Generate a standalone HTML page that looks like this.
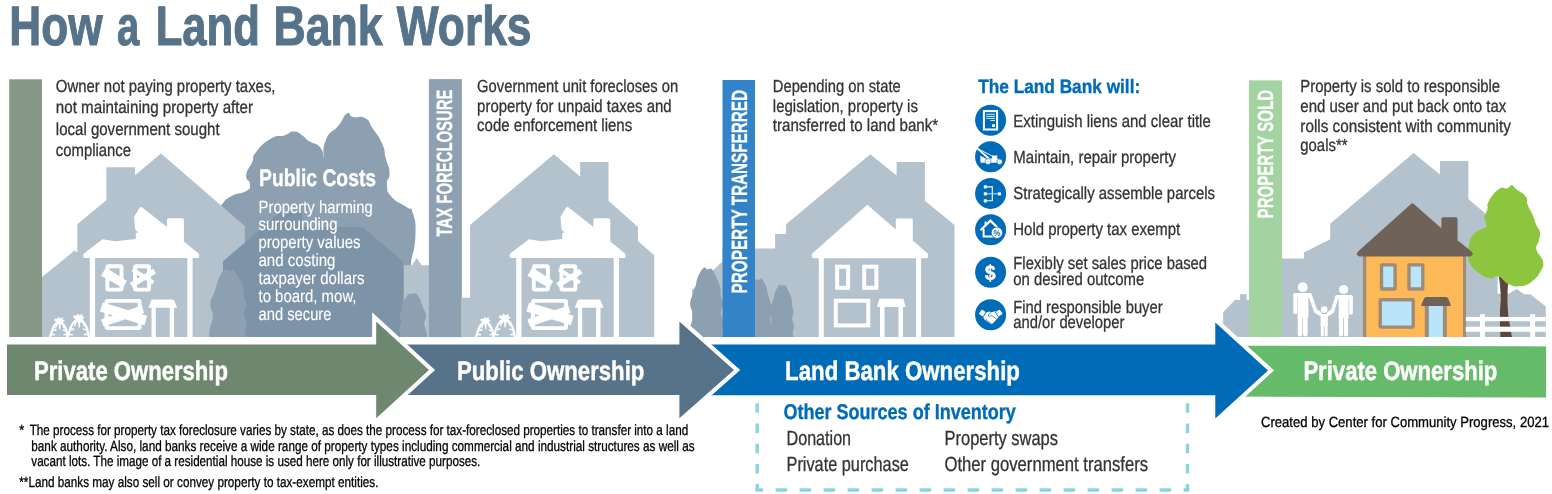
<!DOCTYPE html>
<html><head><meta charset="utf-8"><title>How a Land Bank Works</title>
<style>
html,body{margin:0;padding:0;background:#fff;}
body{width:1552px;height:494px;overflow:hidden;font-family:"Liberation Sans",sans-serif;}
svg{display:block;font-family:"Liberation Sans",sans-serif;will-change:transform;text-rendering:geometricPrecision;}
</style></head><body>
<svg width="1552" height="494" viewBox="0 0 1552 494">
<defs>
<g id="derelict" fill="#fff" stroke="none">
<path d="M84.2 253.2 L102.6 239.2 L115.1 241.2 L135.8 238.9 L135.8 232.9 L138 232.4 L135.2 229.5 L134 216.9 L139.6 207.8 Q141.1 206.3 142.6 207.7 L167 227 L167 219.8 Q167 218.2 168.6 218.2 L182.3 218.2 Q183.9 218.2 183.9 219.8 L183.9 241.6 L198.3 253.2 Q200.4 255.6 198.3 258.1 L84.2 258.1 Q82.1 255.6 84.2 253.2 Z"/>
<rect x="89.8" y="257" width="5.3" height="80.5"/>
<rect x="187.3" y="257" width="5.3" height="80.5"/>
<g fill="none" stroke="#fff" stroke-width="3.9" stroke-linejoin="round">
<rect x="107.35" y="266.2" width="14.2" height="23.4" rx="1"/>
<rect x="135.05" y="266.2" width="14" height="23.4" rx="1"/>
<rect x="106.5" y="300.9" width="33.1" height="27.2" rx="1"/>
</g>
<path d="M101 275.8 L106 267.6 L126.8 281.1 L122.9 288 Z"/>
<path d="M129.8 283 L153.3 268.8 L156 273.4 L132.8 287.6 Z"/>
<path d="M131.6 271.2 L133.6 267.8 L154.4 281 L152.4 284.4 Z"/>
<path d="M100 311.4 L102.7 302.5 L147.2 315.8 L144.5 325.2 Z"/>
<path d="M100.9 319.4 L141.9 305.6 L144 313.1 L103.6 326.6 Z"/>
<path d="M152.8 299.4 L172.6 299.4 Q174 299.4 174.4 300.8 L177 307.8 L148.4 307.8 L151 300.8 Q151.4 299.4 152.8 299.4 Z"/>
<rect x="151.5" y="305" width="4.3" height="32.5"/>
<rect x="169.7" y="305" width="4.4" height="32.5"/>
</g>
<g id="bags">
<g fill="none" stroke="#fff" stroke-width="2.3" stroke-linejoin="round">
<path d="M50 337 L52.2 330.4 Q53.6 325.6 56.4 323 L62.2 323 Q65 325.4 66.2 329.6 L67.6 337"/>
<path d="M67.4 337 L70 329.4 Q71.6 324 75 321 L82.4 321 Q85.6 323.6 87 328.4 L89 337"/>
</g>
<g fill="#fff">
<path d="M54.6 318.4 L57.4 319 L58.2 316.8 L60.2 318.6 L62.4 317 L62.8 319.6 L64.8 320.4 L62.8 322 L63.2 324 L56 324 L56.6 321.8 L54.4 320.8 Z"/>
<path d="M73.6 315.2 L76.4 315.8 L77.4 313.4 L79.6 315.4 L82.2 313.8 L82.6 316.4 L84.8 317.4 L82.6 319 L83 321.6 L75 321.6 L75.6 319 L73.2 317.8 Z"/>
<path d="M58.6 323.5 L60.8 323.5 L60.2 329.6 L59.2 329.6 Z M56 323.5 L58 323.5 L56 328.4 L55 328.2 Z M61.4 323.5 L63.4 323.5 L64.6 328 L63.6 328.4 Z"/>
<path d="M78 321.2 L80.4 321.2 L79.8 327.6 L78.6 327.6 Z M75 321.2 L77.2 321.2 L75 326.4 L74 326.2 Z M81.2 321.2 L83.4 321.2 L84.8 326 L83.8 326.4 Z"/>
<path d="M52 329.6 L56.6 329 L56.2 330.8 L52 331.2 Z M66.6 330.2 L62.6 329.2 L63 331 L66.6 331.6 Z M70 328.8 L74.4 328.2 L74 330 L70 330.4 Z M87.4 329.4 L83 328.2 L83.4 330 L87.4 330.8 Z M50.6 333.6 L55 334 L55 335.4 L50.6 335.2 Z M68.4 333.4 L72.8 334 L72.8 335.4 L68.4 335.2 Z M88.2 333 L84 334 L84 335.4 L88.2 335 Z M66.8 333.4 L63.4 334.2 L63.4 335.4 L66.8 335 Z"/>
</g>
</g>
<g id="clean" fill="#fff">
<path d="M84.1 253 L138.7 204.8 L167.1 229.5 L167.1 220 Q167.1 218.4 168.7 218.4 L182.5 218.4 Q184.1 218.4 184.1 220 L184.1 240.5 L198.5 253 Q200.5 255.5 198.5 258.3 L84.1 258.3 Q82 255.5 84.1 253 Z"/>
<rect x="90.1" y="257" width="5" height="80.5"/>
<rect x="187.4" y="257" width="5" height="80.5"/>
<g fill="none" stroke="#fff" stroke-width="4">
<rect x="108.4" y="266.7" width="11" height="21.1"/>
<rect x="135.5" y="266.7" width="12.2" height="21.1"/>
<rect x="107.1" y="300.7" width="32.5" height="24.7"/>
</g>
<path d="M150.7 298.7 L174.7 298.7 L176.9 307.1 L148.4 307.1 Z"/>
<rect x="151.3" y="305" width="4.5" height="32.5"/>
<rect x="169.8" y="305" width="4.5" height="32.5"/>
</g>
</defs>
<text x="9.32" y="44.9" font-size="55.5" font-weight="700" fill="#56738a" textLength="93.3" lengthAdjust="spacingAndGlyphs" stroke="#56738a" stroke-width="1.1">How</text>
<text x="116.89" y="44.9" font-size="55.5" font-weight="700" fill="#56738a" textLength="22.3" lengthAdjust="spacingAndGlyphs" stroke="#56738a" stroke-width="1.1">a</text>
<text x="155.65" y="44.9" font-size="55.5" font-weight="700" fill="#56738a" textLength="104.2" lengthAdjust="spacingAndGlyphs" stroke="#56738a" stroke-width="1.1">Land</text>
<text x="273.41" y="44.9" font-size="55.5" font-weight="700" fill="#56738a" textLength="109.2" lengthAdjust="spacingAndGlyphs" stroke="#56738a" stroke-width="1.1">Bank</text>
<text x="396.87" y="44.9" font-size="55.5" font-weight="700" fill="#56738a" textLength="134.6" lengthAdjust="spacingAndGlyphs" stroke="#56738a" stroke-width="1.1">Works</text>
<path fill="#8da0b1" d="M214.0 216.0 C216.4 212.5 216.6 210.4 221.9 204.4 C227.2 198.4 224.3 200.0 231.6 196.0 C238.9 192.0 240.7 194.8 246.2 191.1 C251.7 187.4 249.8 188.5 249.8 183.8 C249.8 179.1 245.5 181.8 246.2 175.3 C246.9 168.8 249.3 168.9 252.2 162.0 C255.1 155.1 250.4 159.1 255.9 152.2 C261.4 145.3 261.7 144.0 270.4 138.9 C279.1 133.8 278.1 137.4 285.0 135.2 C291.9 133.0 288.4 131.6 293.5 131.6 C298.6 131.6 297.3 132.3 302.0 135.2 C306.7 138.1 303.8 137.6 309.3 141.3 C314.8 145.0 316.0 142.4 320.2 147.4 C324.4 152.4 322.4 154.8 323.3 158.0 C324.2 152.3 321.7 148.7 326.3 138.9 C330.9 129.2 332.3 133.2 338.5 125.5 C344.7 117.8 342.6 116.0 347.0 113.4 C351.4 110.9 347.5 115.6 353.0 117.0 C358.5 118.4 359.3 114.9 365.2 118.2 C371.1 121.5 367.4 120.3 372.5 127.9 C377.6 135.6 378.2 134.6 382.2 143.7 C386.2 152.8 383.6 149.5 385.8 158.3 C388.0 167.1 389.1 164.9 389.5 172.9 C389.9 180.9 386.3 177.7 387.0 185.0 C387.7 192.3 386.0 190.6 391.9 197.2 C397.8 203.8 400.2 202.2 406.5 206.9 C412.8 211.6 410.1 204.3 412.8 213.0 C415.5 221.7 415.9 221.6 415.4 236.0 C414.9 250.4 412.4 253.5 411.1 261.0 L411 337 L214 337 Z"/>
<path fill="#b4c2cd" d="M41.5 277.4 L74.6 250.6 L77.3 252.6 L77.3 224.2 L106.4 200.2 L106.4 167.2 L135.1 167.2 L135.1 175.3 L161 153.6 L244.8 225.9 L244.8 337 L41.5 337 Z"/>
<path fill="#b4c2cd" d="M404 265.2 L412 265.2 L416.8 258.1 L421.5 265.2 L429.5 265.2 L429.5 337 L404 337 Z"/>
<path fill="#7d93a8" d="M223.1 337 L223.1 261.2 L279.8 212.7 L302.4 212.7 L302.4 227 L362.3 227 L402.8 261.2 L402.8 337 Z"/>
<path d="M209.2 337.0 C209.3 334.9 208.9 333.6 209.7 329.2 C210.6 324.8 211.5 324.9 212.2 320.5 C213.0 316.1 213.0 317.1 212.5 312.7 C211.9 308.3 210.0 308.9 210.3 304.0 C210.6 299.0 212.0 298.9 213.6 294.3 C215.1 289.6 214.8 290.9 216.3 286.5 C217.7 282.1 216.7 282.3 219.0 277.7 C221.3 273.2 222.4 271.4 225.0 269.5 C227.6 267.6 226.5 270.4 228.8 270.7 C231.1 270.9 231.4 269.0 233.7 270.4 C236.0 271.7 235.8 273.1 237.5 275.8 C239.2 278.5 238.6 277.3 240.2 280.7 C241.8 284.0 242.5 284.3 243.5 288.4 C244.5 292.6 243.3 291.8 244.0 296.2 C244.7 300.6 246.1 300.3 246.2 304.9 C246.3 309.6 244.1 308.8 244.2 313.7 C244.4 318.6 246.5 318.7 246.7 323.4 C247.0 328.1 245.3 327.5 245.1 331.2 C245.0 334.8 245.9 335.4 246.2 337.0 Z" fill="#8da0b1"/>
<path d="M427.1 337.0 C426.9 335.7 427.2 334.8 426.6 332.0 C426.0 329.1 425.3 329.2 424.8 326.3 C424.2 323.5 424.2 324.1 424.6 321.3 C425.0 318.4 426.5 318.8 426.2 315.6 C426.0 312.4 425.0 312.4 423.8 309.3 C422.6 306.3 422.9 307.2 421.8 304.3 C420.7 301.5 421.5 301.6 419.8 298.7 C418.0 295.7 417.3 294.5 415.3 293.3 C413.4 292.1 414.2 293.9 412.5 294.1 C410.8 294.2 410.6 293.0 408.9 293.9 C407.1 294.8 407.3 295.6 406.0 297.4 C404.7 299.2 405.2 298.4 404.0 300.5 C402.8 302.7 402.3 302.9 401.6 305.6 C400.8 308.3 401.7 307.8 401.2 310.6 C400.6 313.4 399.6 313.2 399.6 316.3 C399.5 319.3 401.1 318.7 401.0 321.9 C400.9 325.1 399.3 325.2 399.1 328.2 C399.0 331.2 400.3 330.9 400.4 333.2 C400.5 335.6 399.8 336.0 399.6 337.0 Z" fill="#8da0b1"/>
<rect x="9.2" y="79.3" width="32.8" height="257.7" fill="#879986"/>
<use href="#derelict"/>
<use href="#bags"/>
<text x="55.8" y="91.7" font-size="17.5" fill="#333333" textLength="219.7" lengthAdjust="spacingAndGlyphs" stroke="#333333" stroke-width="0.3">Owner not paying property taxes,</text>
<text x="55.8" y="113.2" font-size="17.5" fill="#333333" textLength="197.2" lengthAdjust="spacingAndGlyphs" stroke="#333333" stroke-width="0.3">not maintaining property after</text>
<text x="55.8" y="134.7" font-size="17.5" fill="#333333" textLength="163.8" lengthAdjust="spacingAndGlyphs" stroke="#333333" stroke-width="0.3">local government sought</text>
<text x="55.8" y="156.2" font-size="17.5" fill="#333333" textLength="75.3" lengthAdjust="spacingAndGlyphs" stroke="#333333" stroke-width="0.3">compliance</text>
<text x="259" y="185.5" font-size="24" font-weight="700" fill="#fff" textLength="117.1" lengthAdjust="spacingAndGlyphs" stroke="#fff" stroke-width="0.35">Public Costs</text>
<text x="258.5" y="212.5" font-size="17.6" fill="#fff" textLength="114.2" lengthAdjust="spacingAndGlyphs" stroke="#fff" stroke-width="0.12">Property harming</text>
<text x="258.5" y="230.45" font-size="17.6" fill="#fff" textLength="79.0" lengthAdjust="spacingAndGlyphs" stroke="#fff" stroke-width="0.12">surrounding</text>
<text x="258.5" y="248.4" font-size="17.6" fill="#fff" textLength="102.0" lengthAdjust="spacingAndGlyphs" stroke="#fff" stroke-width="0.12">property values</text>
<text x="258.5" y="266.35" font-size="17.6" fill="#fff" textLength="77.0" lengthAdjust="spacingAndGlyphs" stroke="#fff" stroke-width="0.12">and costing</text>
<text x="258.5" y="284.3" font-size="17.6" fill="#fff" textLength="106.0" lengthAdjust="spacingAndGlyphs" stroke="#fff" stroke-width="0.12">taxpayer dollars</text>
<text x="258.5" y="302.25" font-size="17.6" fill="#fff" textLength="98.0" lengthAdjust="spacingAndGlyphs" stroke="#fff" stroke-width="0.12">to board, mow,</text>
<text x="258.5" y="320.2" font-size="17.6" fill="#fff" textLength="73.0" lengthAdjust="spacingAndGlyphs" stroke="#fff" stroke-width="0.12">and secure</text>
<rect x="428.9" y="79.1" width="33" height="258" fill="#8ea1b3"/>
<text transform="translate(452.2,236.4) rotate(-90)" font-size="22" font-weight="700" fill="#fff" stroke="#fff" stroke-width="0.3" textLength="146.8" lengthAdjust="spacingAndGlyphs">TAX FORECLOSURE</text>
<path fill="#b4c2cd" d="M461 297.8 L470.1 297.8 L470.1 225 L553.9 154.2 L580.2 176.4 L580.2 162 L608.5 162 L608.5 200.7 L638 227 L638 241.2 L654.2 255.3 L654.2 337 L461 337 Z"/>
<use href="#derelict" x="426.4"/>
<use href="#bags" x="426"/>
<text x="477.1" y="91.7" font-size="17.5" fill="#333333" textLength="201.1" lengthAdjust="spacingAndGlyphs" stroke="#333333" stroke-width="0.3">Government unit forecloses on</text>
<text x="477.1" y="111.5" font-size="17.5" fill="#333333" textLength="194.6" lengthAdjust="spacingAndGlyphs" stroke="#333333" stroke-width="0.3">property for unpaid taxes and</text>
<text x="477.1" y="131.3" font-size="17.5" fill="#333333" textLength="155.1" lengthAdjust="spacingAndGlyphs" stroke="#333333" stroke-width="0.3">code enforcement liens</text>
<path fill="#b4c2cd" d="M692 290 L722.5 261.5 L722.5 248.5 L775.1 248.5 L775.1 233.9 L786.1 233.9 L786.1 224.2 L870.3 154.2 L896.6 175.6 L896.6 162 L924.9 162 L924.9 200.7 L954.5 225 L954.5 337 L692 337 Z"/>
<path d="M689.2 337.0 C689.4 334.9 689.0 333.6 689.7 329.1 C690.5 324.6 691.4 324.6 692.0 320.1 C692.7 315.6 692.7 316.7 692.2 312.2 C691.7 307.7 690.0 308.3 690.2 303.2 C690.5 298.2 691.7 298.1 693.2 293.3 C694.6 288.5 694.3 289.9 695.7 285.4 C697.0 280.9 696.0 281.1 698.1 276.4 C700.2 271.8 701.2 269.9 703.5 268.0 C705.9 266.1 704.9 268.9 707.0 269.2 C709.1 269.4 709.3 267.5 711.4 268.9 C713.5 270.3 713.3 271.6 714.9 274.4 C716.4 277.3 715.9 276.0 717.3 279.4 C718.8 282.9 719.4 283.1 720.3 287.4 C721.2 291.6 720.1 290.8 720.8 295.3 C721.4 299.8 722.7 299.5 722.8 304.2 C722.8 309.0 720.8 308.1 721.0 313.2 C721.1 318.2 723.0 318.3 723.2 323.1 C723.5 327.9 721.9 327.3 721.8 331.0 C721.6 334.7 722.5 335.4 722.8 337.0 Z" fill="#8da0b1"/>
<path d="M772.8 337.0 C772.7 335.2 773.0 334.1 772.4 330.3 C771.8 326.5 771.2 326.6 770.7 322.8 C770.1 319.0 770.1 319.9 770.5 316.1 C770.9 312.3 772.2 312.8 772.0 308.6 C771.8 304.4 770.9 304.2 769.7 300.2 C768.6 296.2 768.8 297.3 767.8 293.5 C766.8 289.8 767.5 289.9 765.9 286.0 C764.3 282.1 763.5 280.5 761.7 278.9 C759.9 277.3 760.7 279.7 759.0 279.9 C757.4 280.1 757.2 278.5 755.6 279.7 C754.0 280.9 754.1 282.0 752.9 284.4 C751.7 286.7 752.1 285.6 751.0 288.5 C749.9 291.4 749.4 291.6 748.7 295.2 C748.0 298.8 748.8 298.1 748.3 301.9 C747.8 305.7 746.8 305.4 746.8 309.4 C746.8 313.4 748.3 312.7 748.2 316.9 C748.1 321.2 746.6 321.3 746.4 325.3 C746.3 329.3 747.5 328.9 747.6 332.0 C747.7 335.1 747.0 335.7 746.8 337.0 Z" fill="#8da0b1"/>
<path d="M769.0 337.0 C769.1 335.4 768.9 334.4 769.4 331.0 C769.9 327.6 770.6 327.6 771.1 324.2 C771.5 320.9 771.6 321.6 771.2 318.2 C770.9 314.9 769.6 315.3 769.8 311.5 C770.0 307.7 770.9 307.6 771.9 304.0 C773.0 300.4 772.8 301.4 773.7 298.0 C774.7 294.6 774.0 294.8 775.5 291.2 C777.1 287.8 777.8 286.3 779.5 284.9 C781.2 283.4 780.5 285.6 782.0 285.8 C783.6 286.0 783.7 284.5 785.3 285.6 C786.8 286.6 786.6 287.6 787.8 289.8 C788.9 291.9 788.5 290.9 789.6 293.5 C790.6 296.1 791.1 296.3 791.7 299.5 C792.4 302.7 791.6 302.1 792.1 305.5 C792.6 308.9 793.5 308.6 793.5 312.2 C793.6 315.9 792.2 315.2 792.3 319.0 C792.3 322.8 793.8 322.9 793.9 326.5 C794.1 330.1 792.9 329.7 792.8 332.5 C792.7 335.3 793.4 335.8 793.5 337.0 Z" fill="#8da0b1"/>
<rect x="722.5" y="80" width="32.5" height="257" fill="#3283c7"/>
<text transform="translate(747.2,293.4) rotate(-90)" font-size="22" font-weight="700" fill="#fff" stroke="#fff" stroke-width="0.3" textLength="203.5" lengthAdjust="spacingAndGlyphs">PROPERTY TRANSFERRED</text>
<use href="#clean" x="728.7"/>
<text x="772.8" y="91.7" font-size="17.5" fill="#333333" textLength="127.9" lengthAdjust="spacingAndGlyphs" stroke="#333333" stroke-width="0.3">Depending on state</text>
<text x="772.8" y="111.5" font-size="17.5" fill="#333333" textLength="145.1" lengthAdjust="spacingAndGlyphs" stroke="#333333" stroke-width="0.3">legislation, property is</text>
<text x="772.8" y="131.3" font-size="17.5" fill="#333333" textLength="165.4" lengthAdjust="spacingAndGlyphs" stroke="#333333" stroke-width="0.3">transferred to land bank*</text>
<text x="978.2" y="93.2" font-size="19.3" font-weight="700" fill="#006bb6" textLength="162.0" lengthAdjust="spacingAndGlyphs" stroke="#006bb6" stroke-width="0.35">The Land Bank will:</text>
<circle cx="990.6" cy="120.3" r="15.5" fill="#006bb6"/>
<circle cx="990.6" cy="156.8" r="15.5" fill="#006bb6"/>
<circle cx="990.6" cy="193.4" r="15.5" fill="#006bb6"/>
<circle cx="990.6" cy="229.8" r="15.5" fill="#006bb6"/>
<circle cx="990.6" cy="272.2" r="15.5" fill="#006bb6"/>
<circle cx="990.6" cy="314.8" r="15.5" fill="#006bb6"/>
<g>
<rect x="983.9" y="111.1" width="13.2" height="18.4" fill="none" stroke="#fff" stroke-width="2"/>
<g stroke="#d5e8f5" stroke-width="1">
<line x1="986.2" y1="114.3" x2="995" y2="114.3"/>
<line x1="986.2" y1="116.4" x2="995" y2="116.4"/>
<line x1="986.2" y1="118.4" x2="995" y2="118.4"/>
<line x1="990.4" y1="120.5" x2="995" y2="120.5"/>
</g>
<rect x="992.1" y="124.3" width="2.9" height="2.7" fill="#fff"/>
</g>
<g fill="#fff">
<line x1="977.3" y1="148.4" x2="989.6" y2="159.2" stroke="#fff" stroke-width="1.8"/>
<line x1="977.8" y1="148.7" x2="993.2" y2="156.6" stroke="#fff" stroke-width="0.9"/>
<path d="M980.4 155.8 L986.6 159 L986.6 162.7 L980.4 162.7 Z"/>
<path d="M987 158.6 L992.1 158.6 L992.1 155.6 L997.6 155.6 L996.8 158.6 L998.8 158.6 L998.8 162.7 L987 162.7 Z"/>
<circle cx="988" cy="161.5" r="3" stroke="#006bb6" stroke-width="0.6"/>
<circle cx="999.6" cy="161.8" r="2.7" stroke="#006bb6" stroke-width="0.6"/>
<circle cx="988" cy="161.5" r="1" fill="#b9d9ef"/>
<circle cx="999.6" cy="161.8" r="0.9" fill="#b9d9ef"/>
</g>
<g fill="#fff">
<rect x="983.8" y="185.3" width="3.1" height="3.1"/>
<rect x="983.8" y="192.3" width="3.1" height="3.1"/>
<rect x="983.8" y="199.3" width="3.1" height="3.1"/>
<rect x="997.8" y="192.3" width="3.1" height="3.1"/>
<path d="M986.9 186.9 H992.3 V200.8 H986.9" fill="none" stroke="#fff" stroke-width="1.1"/>
<path d="M986.9 193.8 H997.8" fill="none" stroke="#b9d9ef" stroke-width="1.1"/>
</g>
<g>
<path d="M980.6 230.2 L990.4 220.6 L1000.2 230.2" fill="none" stroke="#fff" stroke-width="2.2" stroke-linejoin="miter"/>
<path d="M983.6 229 V236.4 H994" fill="none" stroke="#fff" stroke-width="2"/>
<rect x="984.6" y="221.5" width="1.9" height="4" fill="#fff"/>
<circle cx="996.9" cy="232.7" r="5.7" fill="#fff" stroke="#006bb6" stroke-width="0.8"/>
<text x="996.9" y="235.6" font-size="8.5" font-weight="700" fill="#006bb6" text-anchor="middle" textLength="7" lengthAdjust="spacingAndGlyphs">%</text>
</g>
<text x="990.3" y="279.6" font-size="21" font-weight="700" fill="#fff" stroke="#fff" stroke-width="0.5" text-anchor="middle" textLength="10.6" lengthAdjust="spacingAndGlyphs">$</text>
<g fill="#fff">
<path d="M978.8 313.8 L981.8 309.4 L985.6 311.9 L982.6 316.4 Z"/>
<path d="M1002.7 313.8 L999.6 309.4 L995.8 311.9 L998.8 316.4 Z"/>
<path d="M984.2 313 L989.3 311.4 L991.2 312.3 L995.6 311.2 L999.2 316.6 L993 323.2 Q991.5 324.3 990.2 323.4 L984.4 319.6 L982.8 316.2 Z"/>
<g fill="none" stroke="#006bb6" stroke-width="0.7">
<path d="M983 316.9 L986.1 312.2 M998.4 316.9 L995.3 312.2" stroke-width="0.9"/>
<path d="M991.2 312.3 L988.3 315 Q987.8 316.3 989.2 316.6 L991.4 315.2 L996.6 319"/>
<path d="M985.6 319 L987 320.4 M987.3 320.2 L988.8 321.8 M989 321.6 L990.6 323.2"/>
</g>
</g>
<text x="1013.3" y="126.8" font-size="17.5" fill="#333333" textLength="197.5" lengthAdjust="spacingAndGlyphs" stroke="#333333" stroke-width="0.3">Extinguish liens and clear title</text>
<text x="1013.3" y="162.7" font-size="17.5" fill="#333333" textLength="162.7" lengthAdjust="spacingAndGlyphs" stroke="#333333" stroke-width="0.3">Maintain, repair property</text>
<text x="1013.3" y="198.8" font-size="17.5" fill="#333333" textLength="201.7" lengthAdjust="spacingAndGlyphs" stroke="#333333" stroke-width="0.3">Strategically assemble parcels</text>
<text x="1013.3" y="234.9" font-size="17.5" fill="#333333" textLength="166.9" lengthAdjust="spacingAndGlyphs" stroke="#333333" stroke-width="0.3">Hold property tax exempt</text>
<text x="1013.3" y="268.5" font-size="17.5" fill="#333333" textLength="193.8" lengthAdjust="spacingAndGlyphs" stroke="#333333" stroke-width="0.3">Flexibly set sales price based</text>
<text x="1013.3" y="284.5" font-size="17.5" fill="#333333" textLength="130.9" lengthAdjust="spacingAndGlyphs" stroke="#333333" stroke-width="0.3">on desired outcome</text>
<text x="1013.3" y="312.5" font-size="17.5" fill="#333333" textLength="149.3" lengthAdjust="spacingAndGlyphs" stroke="#333333" stroke-width="0.3">Find responsible buyer</text>
<text x="1013.3" y="328.4" font-size="17.5" fill="#333333" textLength="111.1" lengthAdjust="spacingAndGlyphs" stroke="#333333" stroke-width="0.3">and/or developer</text>
<path fill="#b4c2cd" d="M1223.1 330 L1223.1 312.2 L1234.9 300 L1240.1 300 L1240.1 294.3 L1246.7 294.3 L1246.7 300 L1249 300 L1249 258.6 L1303.9 258.6 L1303.9 252.5 L1330.2 239.2 L1330.2 223.8 L1413.6 153 L1440 174.4 L1440 161 L1468.4 161 L1468.4 199.1 L1497.6 224 L1497.6 337 L1223.4 337 Z"/>
<path fill="#b4c2cd" d="M1497 337 L1497 293.8 L1508.8 293.7 L1516.6 288.9 L1524.3 294.2 L1530.3 294.2 L1545.8 306.6 L1545.8 337 Z"/>
<rect x="1249" y="80.4" width="33" height="256.6" fill="#a3d3a1"/>
<text transform="translate(1273.2,218.4) rotate(-90)" font-size="22" font-weight="700" fill="#fff" stroke="#fff" stroke-width="0.3" textLength="128.5" lengthAdjust="spacingAndGlyphs">PROPERTY SOLD</text>
<text x="1300.3" y="91.8" font-size="17.5" fill="#333333" textLength="199.8" lengthAdjust="spacingAndGlyphs" stroke="#333333" stroke-width="0.3">Property is sold to responsible</text>
<text x="1300.3" y="111.65" font-size="17.5" fill="#333333" textLength="206.0" lengthAdjust="spacingAndGlyphs" stroke="#333333" stroke-width="0.3">end user and put back onto tax</text>
<text x="1300.3" y="131.5" font-size="17.5" fill="#333333" textLength="210.5" lengthAdjust="spacingAndGlyphs" stroke="#333333" stroke-width="0.3">rolls consistent with community</text>
<text x="1300.3" y="151.35" font-size="17.5" fill="#333333" textLength="47.2" lengthAdjust="spacingAndGlyphs" stroke="#333333" stroke-width="0.3">goals**</text>
<path fill="#5b463c" d="M1498.5 275 L1508.2 282 Q1506.6 300 1508.4 316 L1511.9 337 L1500.5 337 Q1499 316 1500.8 300 Q1500.6 285 1498.5 275 Z"/>
<path fill="#8cc63f" d="M1468.4 256.0 C1468.2 250.7 1467.6 249.8 1469.2 243.8 C1470.8 237.8 1470.2 237.8 1474.4 233.5 C1478.6 229.2 1482.0 230.2 1485.1 227.5 C1488.2 224.8 1486.3 225.9 1486.1 223.2 C1485.9 220.5 1484.1 220.9 1484.4 217.2 C1484.7 213.5 1486.1 213.8 1487.3 209.4 C1488.5 205.0 1485.8 206.3 1489.0 200.8 C1492.2 195.3 1494.6 192.1 1499.4 188.8 C1504.2 185.5 1503.8 189.3 1507.1 188.4 C1510.4 187.5 1509.4 185.0 1511.9 185.3 C1514.4 185.6 1512.9 186.6 1516.6 189.6 C1520.3 192.6 1522.7 192.4 1525.7 196.5 C1528.7 200.6 1525.8 200.1 1527.7 205.1 C1529.6 210.1 1530.6 210.1 1532.9 215.4 C1535.2 220.7 1534.5 220.5 1536.3 224.9 C1538.1 229.3 1539.1 227.7 1539.8 231.8 C1540.5 235.9 1539.8 235.8 1538.9 240.4 C1538.0 245.0 1535.6 244.3 1536.3 249.0 C1537.0 253.7 1539.7 254.3 1541.5 258.0 C1543.3 261.7 1543.2 259.6 1543.2 262.7 C1543.2 265.8 1544.2 264.8 1541.5 269.6 C1538.8 274.4 1538.4 276.4 1532.9 280.8 C1527.4 285.2 1527.3 285.1 1520.9 286.0 C1514.5 286.9 1514.8 286.7 1508.8 284.2 C1502.8 281.7 1503.5 278.1 1498.5 276.5 C1493.5 274.9 1495.4 279.3 1489.9 278.2 C1484.4 277.1 1483.1 276.1 1477.8 272.2 C1472.5 268.3 1472.6 267.9 1470.1 263.6 C1467.6 259.3 1468.6 261.3 1468.4 256.0Z"/>
<g>
<rect x="1362.9" y="256" width="103.2" height="81" fill="#fdb957"/>
<rect x="1362.9" y="256" width="3.4" height="81" fill="#a08b78"/>
<rect x="1463.0" y="256" width="3.1" height="81" fill="#a08b78"/>
<path fill="#6f6258" d="M1358.3 251.3 L1411 203.9 Q1412.4 202.7 1413.8 203.9 L1441.4 228.2 L1441.4 218.8 Q1441.4 217.2 1443 217.2 L1455.9 217.2 Q1457.5 217.2 1457.5 218.8 L1457.5 240.2 L1471.2 251.3 Q1474.8 254.9 1470.2 256.4 L1359.3 256.4 Q1354.7 254.9 1358.3 251.3 Z"/>
<g fill="#b9e5fa" stroke="#a08b78" stroke-width="3.4" stroke-linejoin="round">
<rect x="1381.5" y="264.9" width="13.6" height="24.1" rx="0.6"/>
<rect x="1409" y="264.9" width="13.8" height="24.1" rx="0.6"/>
<rect x="1380.2" y="299.8" width="33" height="27.3" rx="0.6"/>
</g>
<rect x="1424.8" y="304" width="22" height="33" fill="#a08b78"/>
<rect x="1428.8" y="304" width="14.1" height="33" fill="#b9e5fa"/>
<path fill="#6f6258" d="M1426.3 297.1 L1446 297.1 Q1447.6 297.1 1448.2 298.6 L1450.6 304.6 Q1451 306.1 1449.4 306.1 L1422.6 306.1 Q1421 306.1 1421.4 304.6 L1424.1 298.6 Q1424.7 297.1 1426.3 297.1 Z"/>
</g>
<g fill="#fff">
<rect x="1465.8" y="316.9" width="80" height="4.3"/>
<rect x="1465.8" y="326.7" width="80" height="5.1"/>
<rect x="1480" y="314.2" width="4.9" height="22.80000000000001"/>
<rect x="1530.1" y="314.2" width="5" height="22.80000000000001"/>
</g>
<g fill="#fff" stroke="#fff" stroke-linecap="round">
<circle cx="1302.8" cy="287.2" r="4.9" stroke="none"/>
<path stroke="none" d="M1297.6 295 Q1297.6 293 1299.6 293 L1306.4 293 Q1308.4 293 1308.4 295 L1308.4 318 L1297.6 318 Z"/>
<path fill="none" stroke-width="3.9" d="M1295.2 295.2 V312.3"/>
<path fill="none" stroke-width="4.2" d="M1295.4 295.1 H1309.8"/>
<path fill="none" stroke-width="3.6" d="M1310 295.2 L1315.5 310.6 L1320 313.6"/>
<path fill="none" stroke-width="4.6" d="M1300 316 V334.3 M1305.3 316 V334.3"/>
<circle cx="1343.6" cy="289.5" r="4.6" stroke="none"/>
<path stroke="none" d="M1338.7 297 Q1338.7 295 1340.7 295 L1346.6 295 Q1348.6 295 1348.6 297 L1348.6 318 L1338.7 318 Z"/>
<path fill="none" stroke-width="3.7" d="M1351 297.2 V312.8"/>
<path fill="none" stroke-width="4" d="M1337 297 H1350.8"/>
<path fill="none" stroke-width="3.5" d="M1336.8 297.2 L1332.6 310.6 L1328.5 313.6"/>
<path fill="none" stroke-width="4.2" d="M1341 316 V334.5 M1346 316 V334.5"/>
<circle cx="1324.2" cy="309.5" r="3.3" stroke="none"/>
<path stroke="none" d="M1320.6 314 L1327.8 314 L1327.8 326 L1320.6 326 Z"/>
<path fill="none" stroke-width="2.6" d="M1321 315.2 L1315.4 311.6 M1327.4 315.2 L1333 311.6"/>
<path fill="none" stroke-width="3" d="M1322.3 324 V335 M1326.1 324 V335"/>
</g>
<path d="M1238 345.8 L1546.1 346.4 L1546.1 397.6 L1238 396.6 Z" fill="#66bb6a"/>
<path d="M700 344.6 L1215.3 344.6 L1215.3 322.4 L1268 370.4 L1215.3 418.4 L1215.3 395.2 L700 395.2 Z" fill="#fff" stroke="#fff" stroke-width="8.2" stroke-linejoin="miter"/>
<path d="M700 344.6 L1215.3 344.6 L1215.3 322.4 L1268 370.4 L1215.3 418.4 L1215.3 395.2 L700 395.2 Z" fill="#006bb6"/>
<path d="M400 344.5 L679.4 344.5 L679.4 321.5 L734 370 L679.4 418.3 L679.4 395 L400 395 Z" fill="#fff" stroke="#fff" stroke-width="8.2" stroke-linejoin="miter"/>
<path d="M400 344.5 L679.4 344.5 L679.4 321.5 L734 370 L679.4 418.3 L679.4 395 L400 395 Z" fill="#56738a"/>
<path d="M7 344.5 L376.2 344.5 L376.2 321.5 L429 370 L376.2 418.3 L376.2 395 L7 395 Z" fill="#fff" stroke="#fff" stroke-width="8.2" stroke-linejoin="miter"/>
<path d="M7 344.5 L376.2 344.5 L376.2 321.5 L429 370 L376.2 418.3 L376.2 395 L7 395 Z" fill="#6e8870"/>
<text x="34" y="379.6" font-size="27" font-weight="700" fill="#fff" textLength="194.0" lengthAdjust="spacingAndGlyphs" stroke="#fff" stroke-width="0.45">Private Ownership</text>
<text x="457" y="379.5" font-size="27" font-weight="700" fill="#fff" textLength="187.4" lengthAdjust="spacingAndGlyphs" stroke="#fff" stroke-width="0.45">Public Ownership</text>
<text x="785.1" y="379.6" font-size="27" font-weight="700" fill="#fff" textLength="234.8" lengthAdjust="spacingAndGlyphs" stroke="#fff" stroke-width="0.45">Land Bank Ownership</text>
<text x="1303.4" y="379.6" font-size="27" font-weight="700" fill="#fff" textLength="193.9" lengthAdjust="spacingAndGlyphs" stroke="#fff" stroke-width="0.45">Private Ownership</text>
<text x="19.3" y="434.8" font-size="14.8" fill="#000" textLength="5.0" lengthAdjust="spacingAndGlyphs" stroke="#000" stroke-width="0.3">*</text>
<text x="29.7" y="434.8" font-size="14.8" fill="#000" textLength="658.5" lengthAdjust="spacingAndGlyphs" stroke="#000" stroke-width="0.3">The process for property tax foreclosure varies by state, as does the process for tax-foreclosed properties to transfer into a land</text>
<text x="31.3" y="450.6" font-size="14.8" fill="#000" textLength="663.3" lengthAdjust="spacingAndGlyphs" stroke="#000" stroke-width="0.3">bank authority. Also, land banks receive a wide range of property types including commercial and industrial structures as well as</text>
<text x="31.3" y="466.4" font-size="14.8" fill="#000" textLength="449.0" lengthAdjust="spacingAndGlyphs" stroke="#000" stroke-width="0.3">vacant lots. The image of a residential house is used here only for illustrative purposes.</text>
<text x="19.3" y="486.5" font-size="14.8" fill="#000" textLength="359.1" lengthAdjust="spacingAndGlyphs" stroke="#000" stroke-width="0.3">**Land banks may also sell or convey property to tax-exempt entities.</text>
<text x="1261" y="427" font-size="14.8" fill="#000" textLength="288.0" lengthAdjust="spacingAndGlyphs" stroke="#000" stroke-width="0.3">Created by Center for Community Progress, 2021</text>
<g stroke="#8fd3e0" stroke-width="3.5" fill="none">
<path d="M757.2 403.3 V490" stroke-dasharray="9.5 10.7"/>
<path d="M1187.5 403.3 V490" stroke-dasharray="9.5 10.7"/>
<path d="M755.4 489.9 H1189.3" stroke-dasharray="7.7 12.5 11.5 12.5 11.5 12.5 11.5 12.5 11.5 12.5 11.5 12.5 11.5 12.5 11.5 12.5 11.5 12.5 11.5 12.5 11.5 12.5 11.5 12.5 11.5 12.5 11.5 12.5 11.5 12.5 11.5 12.5 11.5 12.5 11.5 12.5"/>
</g>
<text x="783.4" y="418.8" font-size="21.4" font-weight="700" fill="#006bb6" textLength="232.4" lengthAdjust="spacingAndGlyphs" stroke="#006bb6" stroke-width="0.35">Other Sources of Inventory</text>
<text x="786.5" y="444.8" font-size="20.5" fill="#333333" textLength="64.6" lengthAdjust="spacingAndGlyphs" stroke="#333333" stroke-width="0.3">Donation</text>
<text x="786.5" y="470.6" font-size="20.5" fill="#333333" textLength="122.4" lengthAdjust="spacingAndGlyphs" stroke="#333333" stroke-width="0.3">Private purchase</text>
<text x="944.5" y="444.8" font-size="20.5" fill="#333333" textLength="113.5" lengthAdjust="spacingAndGlyphs" stroke="#333333" stroke-width="0.3">Property swaps</text>
<text x="944.5" y="470.6" font-size="20.5" fill="#333333" textLength="203.6" lengthAdjust="spacingAndGlyphs" stroke="#333333" stroke-width="0.3">Other government transfers</text>
</svg>
</body></html>
